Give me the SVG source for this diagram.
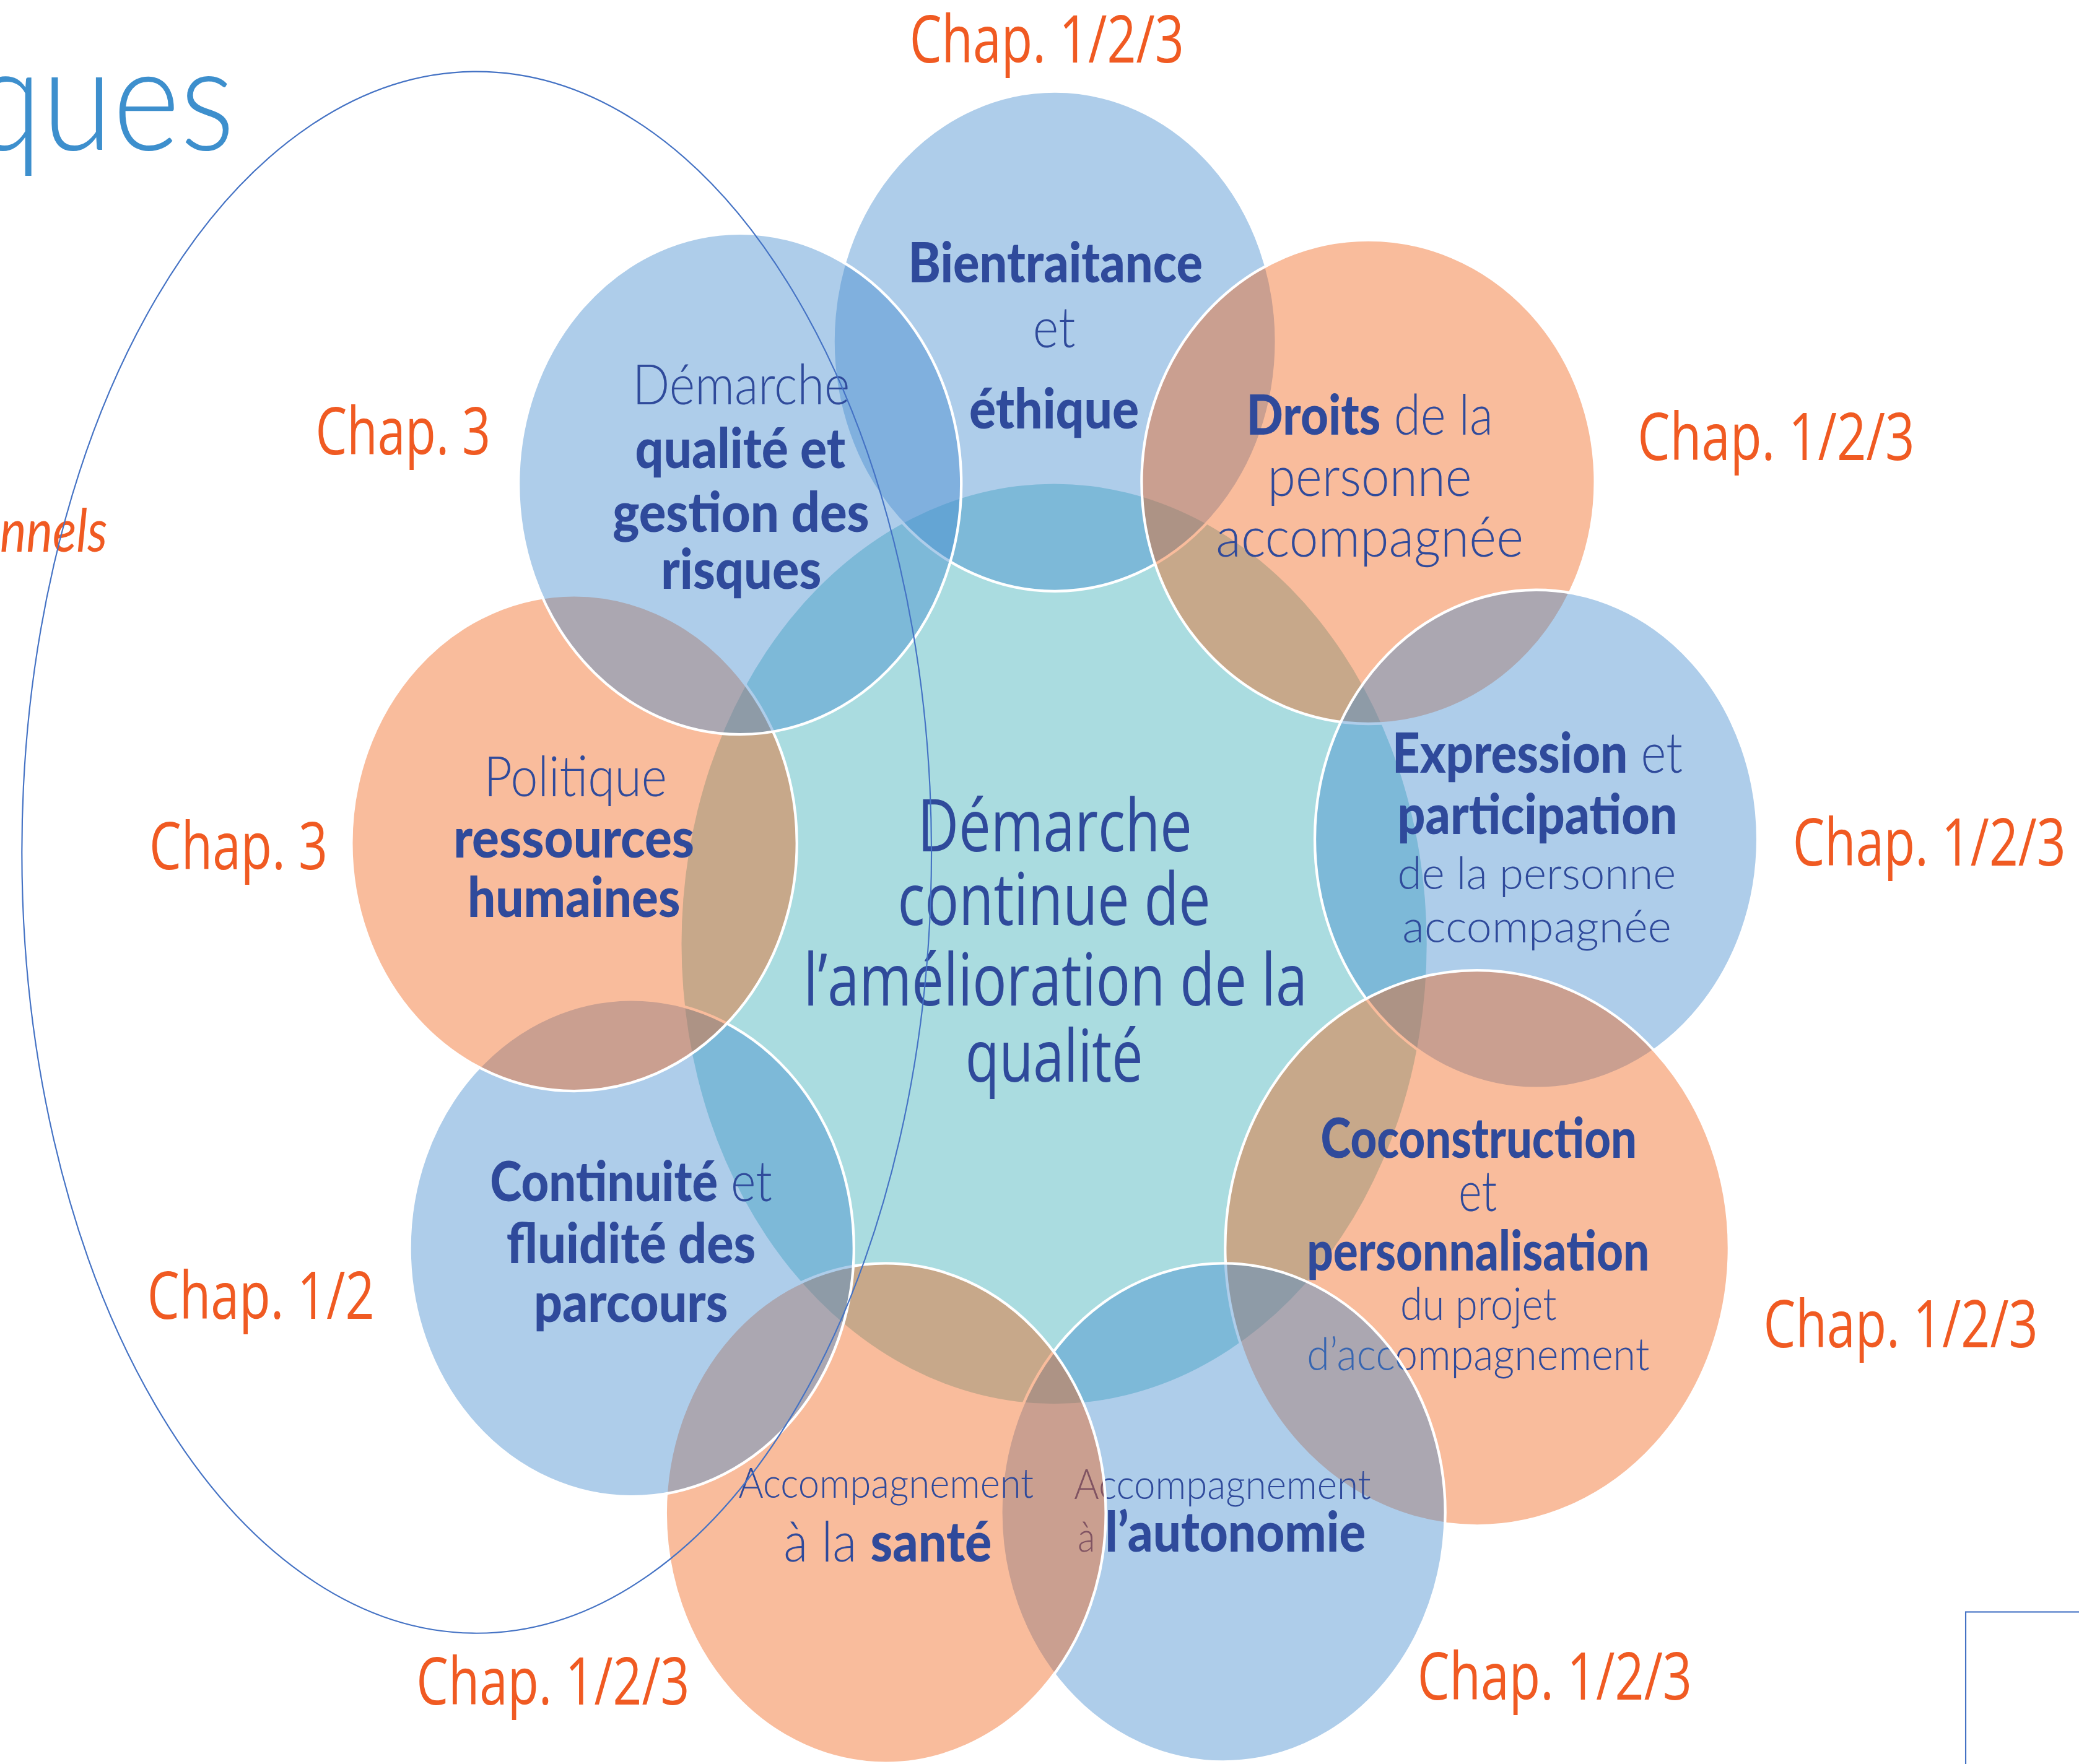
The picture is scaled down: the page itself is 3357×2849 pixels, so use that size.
<svg xmlns="http://www.w3.org/2000/svg" width="3357" height="2849" viewBox="0 0 3357 2849">
<defs>
<style>
.blue{fill:#448CCF;fill-opacity:0.43;stroke:#ffffff;stroke-width:2}
.orange{fill:#F05F14;fill-opacity:0.42;stroke:#ffffff;stroke-width:2}
.center{fill:#AADCE0}
.t{font-family:Lato,"Open Sans","Liberation Sans",sans-serif;fill:#2F4A9B;font-size:42px}
.b{font-weight:900}
.l{font-weight:300}
.s{font-size:34px}
.xs{font-size:31px}
.chap{font-family:"Open Sans","Liberation Sans",sans-serif;fill:#F05A22;font-size:50px}
.ctr{font-family:"Open Sans","Noto Sans","Liberation Sans",sans-serif;fill:#2F4A9B;font-size:55px}
.outline{fill:none;stroke:#4472C4;stroke-width:1}
</style>
</defs>
<rect width="3357" height="2849" fill="#ffffff"/>
<g transform="scale(2.141)">
  <g id="title-fragments">
    <text x="-22" y="113" font-family="Lato,'Open Sans',sans-serif" font-weight="300" font-size="110" fill="#3D8FCD" textLength="199" lengthAdjust="spacingAndGlyphs">ques</text>
    <text x="0" y="416" font-family="Lato,'Open Sans',sans-serif" font-style="italic" font-size="45" fill="#F05A22" textLength="81" lengthAdjust="spacingAndGlyphs">nnels</text>
  </g>

  <g id="node-center">
    <ellipse class="center" cx="795" cy="712" rx="281" ry="347"/>
    <text class="ctr" x="692" y="642" textLength="207" lengthAdjust="spacingAndGlyphs">Démarche</text>
    <text class="ctr" x="677" y="698" textLength="236" lengthAdjust="spacingAndGlyphs">continue de</text>
    <text class="ctr" x="606" y="758.6" textLength="380" lengthAdjust="spacingAndGlyphs">l’amélioration de la</text>
    <text class="ctr" x="728" y="816" textLength="134" lengthAdjust="spacingAndGlyphs">qualité</text>
  </g>

  <g id="node-bientraitance">
    <ellipse class="blue" cx="795.5" cy="257.5" rx="167" ry="188.5"/>
    <text class="t b" x="685" y="213" textLength="222" lengthAdjust="spacingAndGlyphs">Bientraitance</text>
    <text class="t l" x="779" y="262" textLength="32" lengthAdjust="spacingAndGlyphs">et</text>
    <text class="t b" x="731" y="323" textLength="128" lengthAdjust="spacingAndGlyphs">éthique</text>
    <text class="chap" x="686" y="47" textLength="207" lengthAdjust="spacingAndGlyphs">Chap. 1/2/3</text>
  </g>

  <g id="node-droits">
    <ellipse class="orange" cx="1032" cy="363.5" rx="171" ry="182.5"/>
    <text class="t" x="940" y="328" textLength="186" lengthAdjust="spacingAndGlyphs"><tspan class="b">Droits</tspan><tspan class="l"> de la</tspan></text>
    <text class="t l" x="956" y="374" textLength="154" lengthAdjust="spacingAndGlyphs">personne</text>
    <text class="t l" x="917" y="420" textLength="232" lengthAdjust="spacingAndGlyphs">accompagnée</text>
    <text class="chap" x="1235" y="347" textLength="209" lengthAdjust="spacingAndGlyphs">Chap. 1/2/3</text>
  </g>

  <g id="node-expression">
    <ellipse class="blue" cx="1158.6" cy="633" rx="167" ry="188"/>
    <text class="t" x="1050" y="583" textLength="219" lengthAdjust="spacingAndGlyphs"><tspan class="b">Expression</tspan><tspan class="l"> et</tspan></text>
    <text class="t b" x="1054" y="629" textLength="211" lengthAdjust="spacingAndGlyphs">participation</text>
    <text class="t l s" x="1054" y="670.7" textLength="210" lengthAdjust="spacingAndGlyphs">de la personne</text>
    <text class="t l s" x="1057.6" y="711" textLength="203" lengthAdjust="spacingAndGlyphs">accompagnée</text>
    <text class="chap" x="1352" y="653" textLength="206" lengthAdjust="spacingAndGlyphs">Chap. 1/2/3</text>
  </g>

  <g id="node-coconstruction">
    <ellipse class="orange" cx="1114" cy="941.5" rx="190" ry="209.5"/>
    <text class="t b" x="996" y="873.6" textLength="238.5" lengthAdjust="spacingAndGlyphs">Coconstruction</text>
    <text class="t l" x="1100" y="913.8" textLength="29" lengthAdjust="spacingAndGlyphs">et</text>
    <text class="t b" x="985.6" y="958.4" textLength="258.4" lengthAdjust="spacingAndGlyphs">personnalisation</text>
    <text class="t l s" x="1056" y="996" textLength="118" lengthAdjust="spacingAndGlyphs">du projet</text>
    <text class="t l s" x="985.6" y="1033.7" textLength="258.4" lengthAdjust="spacingAndGlyphs">d’accompagnement</text>
    <text class="chap" x="1330" y="1016.5" textLength="207" lengthAdjust="spacingAndGlyphs">Chap. 1/2/3</text>
  </g>

  <g id="node-autonomie">
    <ellipse class="blue" cx="922.5" cy="1141" rx="167.5" ry="188"/>
    <text class="t l xs" x="810" y="1131" textLength="224" lengthAdjust="spacingAndGlyphs">Accompagnement</text>
    <text class="t" x="812.7" y="1170.6" textLength="217.3" lengthAdjust="spacingAndGlyphs"><tspan class="l xs">à </tspan><tspan class="b">l’autonomie</tspan></text>
    <text class="chap" x="1069" y="1282" textLength="207" lengthAdjust="spacingAndGlyphs">Chap. 1/2/3</text>
  </g>

  <g id="node-sante">
    <ellipse class="orange" cx="668" cy="1141.5" rx="166" ry="188.5"/>
    <text class="t l xs" x="557" y="1130" textLength="222.6" lengthAdjust="spacingAndGlyphs">Accompagnement</text>
    <text class="t" x="591" y="1178" textLength="157" lengthAdjust="spacingAndGlyphs"><tspan class="l">à la </tspan><tspan class="b">santé</tspan></text>
    <text class="chap" x="314" y="1286" textLength="206" lengthAdjust="spacingAndGlyphs">Chap. 1/2/3</text>
  </g>

  <g id="node-continuite">
    <ellipse class="blue" cx="476.5" cy="941.5" rx="167.5" ry="187.5"/>
    <text class="t" x="369.6" y="906" textLength="212.8" lengthAdjust="spacingAndGlyphs"><tspan class="b">Continuité</tspan><tspan class="l"> et</tspan></text>
    <text class="t b" x="382" y="953" textLength="188" lengthAdjust="spacingAndGlyphs">fluidité des</text>
    <text class="t b" x="402.6" y="997" textLength="146.4" lengthAdjust="spacingAndGlyphs">parcours</text>
    <text class="chap" x="111" y="995" textLength="171.5" lengthAdjust="spacingAndGlyphs">Chap. 1/2</text>
  </g>

  <g id="node-politique-rh">
    <ellipse class="orange" cx="433" cy="636" rx="168" ry="187"/>
    <text class="t l" x="365" y="600.6" textLength="138" lengthAdjust="spacingAndGlyphs">Politique</text>
    <text class="t b" x="342" y="647" textLength="181.6" lengthAdjust="spacingAndGlyphs">ressources</text>
    <text class="t b" x="352.6" y="691.6" textLength="160.4" lengthAdjust="spacingAndGlyphs">humaines</text>
    <text class="chap" x="112.6" y="656" textLength="134.5" lengthAdjust="spacingAndGlyphs">Chap. 3</text>
  </g>

  <g id="node-demarche-qualite">
    <ellipse class="blue" cx="558" cy="365" rx="167" ry="189"/>
    <text class="t l" x="477" y="305" textLength="164" lengthAdjust="spacingAndGlyphs">Démarche</text>
    <text class="t b" x="479" y="353" textLength="158.6" lengthAdjust="spacingAndGlyphs">qualité et</text>
    <text class="t b" x="462" y="401" textLength="193.6" lengthAdjust="spacingAndGlyphs">gestion des</text>
    <text class="t b" x="498.5" y="444" textLength="121" lengthAdjust="spacingAndGlyphs">risques</text>
    <text class="chap" x="238" y="343" textLength="132" lengthAdjust="spacingAndGlyphs">Chap. 3</text>
  </g>

  <g id="connectors">
    <ellipse class="outline" cx="359.5" cy="643" rx="343" ry="589"/>
    <rect class="outline" x="1482.5" y="1216" width="200" height="200"/>
  </g>
</g>
</svg>
